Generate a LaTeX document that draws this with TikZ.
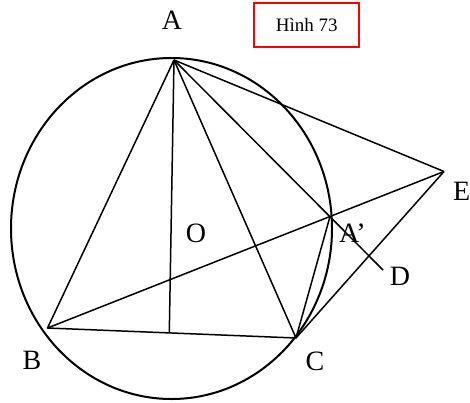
\documentclass[tikz,border=0pt]{standalone}
\usepackage{fontspec}
\setmainfont{Liberation Serif}
\begin{document}
\begin{tikzpicture}[x=1pt,y=-1pt,
  seg/.style={line width=1.5pt,line join=round},
  lbl/.style={font=\fontsize{28}{30}\selectfont,inner sep=0pt,anchor=base},
  pt/.style={inner sep=0pt,minimum size=0pt}]
\useasboundingbox (0,0) rectangle (470,402);
% points
\coordinate (A) at (174,60);
\coordinate (B) at (47.5,328);
\coordinate (C) at (296,338);
\coordinate (H) at (169.3,331.8);
\coordinate (Ap) at (330,216.5);
\coordinate (D) at (383,270);
\coordinate (E) at (444,171.5);
\coordinate (O) at (171.5,228.5);
% circle
\draw[line width=2pt] (O) ellipse [x radius=160.5, y radius=170.5];
% segments
\draw[seg] (A) -- (B) -- (C) -- (A);
\draw[seg] (A) -- (H);
\draw[seg] (A) -- (D);
\draw[seg] (A) -- (E);
\draw[seg] (B) -- (E);
\draw[seg] (C) -- (Ap);
\draw[seg] (C) -- (E);
% labels
\node[lbl] (lA) at (172,29) {A};
\node[lbl] (lB) at (32,369) {B};
\node[lbl] (lC) at (315,370) {C};
\node[lbl,anchor=base west] (lE) at (453,200) {E};
\node[lbl] (lO) at (196,242) {O};
\node[lbl,anchor=base west] (lAp) at (339,242) {A’};
\node[lbl] (lD) at (400,285) {D};
% title box
\node[draw=red,line width=2pt,minimum width=105pt,minimum height=44.5pt,inner sep=0pt,
  font=\fontsize{19}{21}\selectfont] (title) at (306.7,25) {Hình 73};
\end{tikzpicture}
\end{document}
